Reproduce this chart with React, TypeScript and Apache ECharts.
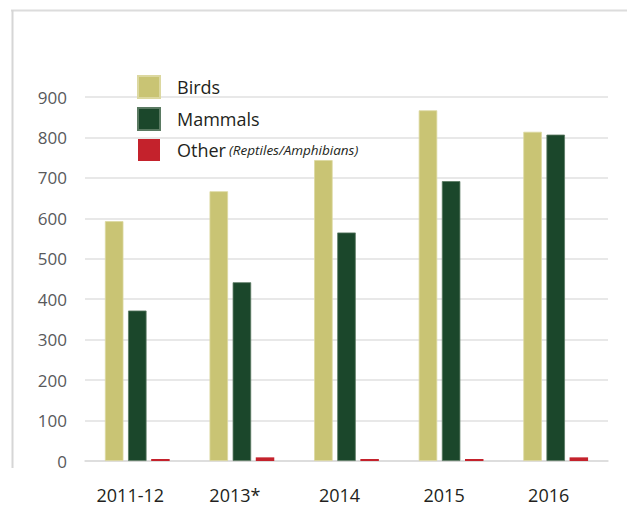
import React, { useEffect, useRef } from "react";
import * as echarts from "echarts";

const categories = ["2011-12", "2013*", "2014", "2015", "2016"];
const birds = [593, 667, 744, 867, 814];
const mammals = [372, 442, 565, 692, 807];
const other = [5, 9, 5, 5, 9];
const yTicks = { min: 0, max: 900, interval: 100 };

const FONT = "'Open Sans', 'DejaVu Sans', sans-serif";

export default function App() {
  const ref = useRef<HTMLDivElement>(null);
  useEffect(() => {
    if (!ref.current) return;
    const chart = echarts.init(ref.current, null, { renderer: "svg" });
    chart.setOption({
      animation: false,
      backgroundColor: "#ffffff",
      textStyle: { fontFamily: FONT },
      grid: { left: 85, right: 19, top: 97, bottom: 45, containLabel: false },
      graphic: [
        {
          type: "line",
          shape: { x1: 11, y1: 10.5, x2: 627, y2: 10.5 },
          style: { stroke: "#dcdcdc", lineWidth: 2 },
          silent: true,
        },
        {
          type: "line",
          shape: { x1: 12.5, y1: 10, x2: 12.5, y2: 468 },
          style: { stroke: "#d6d6d6", lineWidth: 2 },
          silent: true,
        },
      ],
      legend: {
        orient: "vertical",
        left: 137,
        top: 75,
        padding: 0,
        itemWidth: 22,
        itemHeight: 22,
        itemGap: 8,
        icon: "rect",
        selectedMode: false,
        data: ["Birds", "Mammals", "Other"],
        formatter: (name: string) =>
          name === "Other" ? "{a|Other} {b|(Reptiles/Amphibians)}" : "{a|" + name + "}",
        textStyle: {
          padding: [0, 0, 0, 12],
          lineHeight: 22,
          rich: {
            a: { fontSize: 18, lineHeight: 22, color: "#231f20", fontFamily: FONT },
            b: {
              fontSize: 13.5,
              lineHeight: 22,
              fontStyle: "italic",
              color: "#231f20",
              fontFamily: FONT,
            },
          },
        },
      },
      xAxis: {
        type: "category",
        data: categories,
        axisTick: { show: false },
        axisLine: { show: true, lineStyle: { color: "#dadada", width: 1.5 } },
        axisLabel: {
          fontSize: 18,
          color: "#231f20",
          margin: 25,
          padding: [0, 14, 0, 0],
          fontFamily: FONT,
        },
      },
      yAxis: {
        type: "value",
        min: yTicks.min,
        max: yTicks.max,
        interval: yTicks.interval,
        axisLine: { show: false },
        axisTick: { show: false },
        splitLine: { lineStyle: { color: "#e0e0e0", width: 1.5 } },
        axisLabel: { fontSize: 17, color: "#58595b", margin: 18, fontFamily: FONT },
      },
      series: [
        {
          name: "Birds",
          type: "bar",
          data: birds,
          barWidth: 18.5,
          barGap: "25%",
          itemStyle: { color: "#c9c474", borderColor: "#dcd8a0", borderWidth: 0.8 },
        },
        {
          name: "Mammals",
          type: "bar",
          data: mammals,
          barWidth: 18.5,
          barGap: "25%",
          itemStyle: { color: "#1b472b", borderColor: "#5a7a62", borderWidth: 0.8 },
        },
        {
          name: "Other",
          type: "bar",
          data: other,
          barWidth: 18.5,
          barGap: "25%",
          itemStyle: { color: "#c4222c" },
        },
      ],
    });
    return () => chart.dispose();
  }, []);
  return (
    <div
      ref={ref}
      style={{ position: "fixed", left: 0, top: 0, width: 627, height: 506 }}
    />
  );
}
